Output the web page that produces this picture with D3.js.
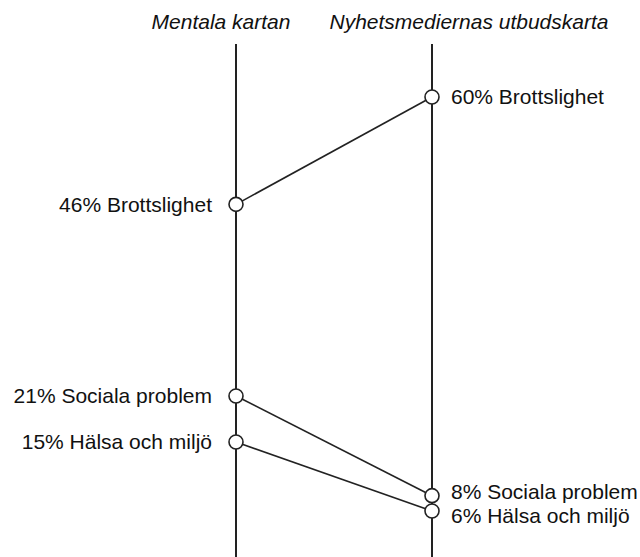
<!DOCTYPE html>
<html>
<head>
<meta charset="utf-8">
<script src="https://cdn.jsdelivr.net/npm/d3@7"></script>
<style>
    body { margin: 0; background: #fff; }
    text { font-family: "Liberation Sans", Arial, sans-serif; fill: #111; }
</style>
</head>
<body>
<svg id="chart" width="640" height="557"></svg>
<script>
// slope chart: mental map vs news supply
var columns = ["Mentala kartan", "Nyhetsmediernas utbudskarta"];
var categories = ["Brottslighet", "Sociala problem", "Hälsa och miljö"];
var mentalValues = [46, 21, 15];
var newsValues = [60, 8, 6];

var width = 640,
    height = 557;
var xLeft = 236,
    xRight = 432;
var labelGap = 24;

var svg = d3.select("#chart");

var yScale = d3.scaleLinear()
    .domain([0, 60])
    .range([557, 97]);

var xScale = d3.scalePoint()
    .domain(columns)
    .range([xLeft, xRight]);

var data = categories.map(function (c, i) {
    return {name: c, left: mentalValues[i], right: newsValues[i]};
});

// column titles
svg.selectAll(".title").data(columns).enter()
    .append("text")
    .attr("class", "title")
    .attr("x", function (d, i) {
        return i == 0 ? xScale(d) - 15 : xScale(d) + 37;
    })
    .attr("y", 29)
    .attr("text-anchor", "middle")
    .style("font-style", "italic")
    .style("font-size", "21px")
    .text(function (d) { return d; });

// vertical axes
svg.selectAll(".axis").data(columns).enter()
    .append("line")
    .attr("class", "axis")
    .attr("x1", function (d) { return xScale(d); })
    .attr("x2", function (d) { return xScale(d); })
    .attr("y1", 44)
    .attr("y2", height)
    .attr("stroke", "#222")
    .attr("stroke-width", 2);

// connecting lines
svg.selectAll(".slope").data(data).enter()
    .append("line")
    .attr("class", "slope")
    .attr("x1", xScale(columns[0]))
    .attr("x2", xScale(columns[1]))
    .attr("y1", function (d) { return yScale(d.left); })
    .attr("y2", function (d) { return yScale(d.right); })
    .attr("stroke", "#222")
    .attr("stroke-width", 1.6);

// push labels apart when two points sit too close
function labelPositions(side) {
    var pos = data.map(function (d) { return yScale(d[side]); });
    var order = d3.range(pos.length).sort(function (a, b) { return pos[a] - pos[b]; });
    for (var k = 1; k < order.length; k++) {
        var a = order[k - 1], b = order[k];
        if (pos[b] - pos[a] < labelGap) {
            var mid = (pos[a] + pos[b]) / 2;
            pos[a] = mid - labelGap / 2;
            pos[b] = mid + labelGap / 2;
        }
    }
    return pos;
}

function dots(side, col, anchor, dx) {
    var g = svg.append("g");
    var ly = labelPositions(side);
    g.selectAll("circle").data(data).enter()
        .append("circle")
        .attr("cx", xScale(col))
        .attr("cy", function (d) { return yScale(d[side]); })
        .attr("r", 7)
        .attr("fill", "#fff")
        .attr("stroke", "#222")
        .attr("stroke-width", 1.6);
    g.selectAll("text").data(data).enter()
        .append("text")
        .attr("x", xScale(col) + dx)
        .attr("y", function (d, i) { return ly[i]; })
        .attr("dy", "0.35em")
        .attr("text-anchor", anchor)
        .style("font-size", "21px")
        .text(function (d) { return d[side] + "% " + d.name; });
}

dots("left", columns[0], "end", -24);
dots("right", columns[1], "start", 19);
</script>
</body>
</html>
